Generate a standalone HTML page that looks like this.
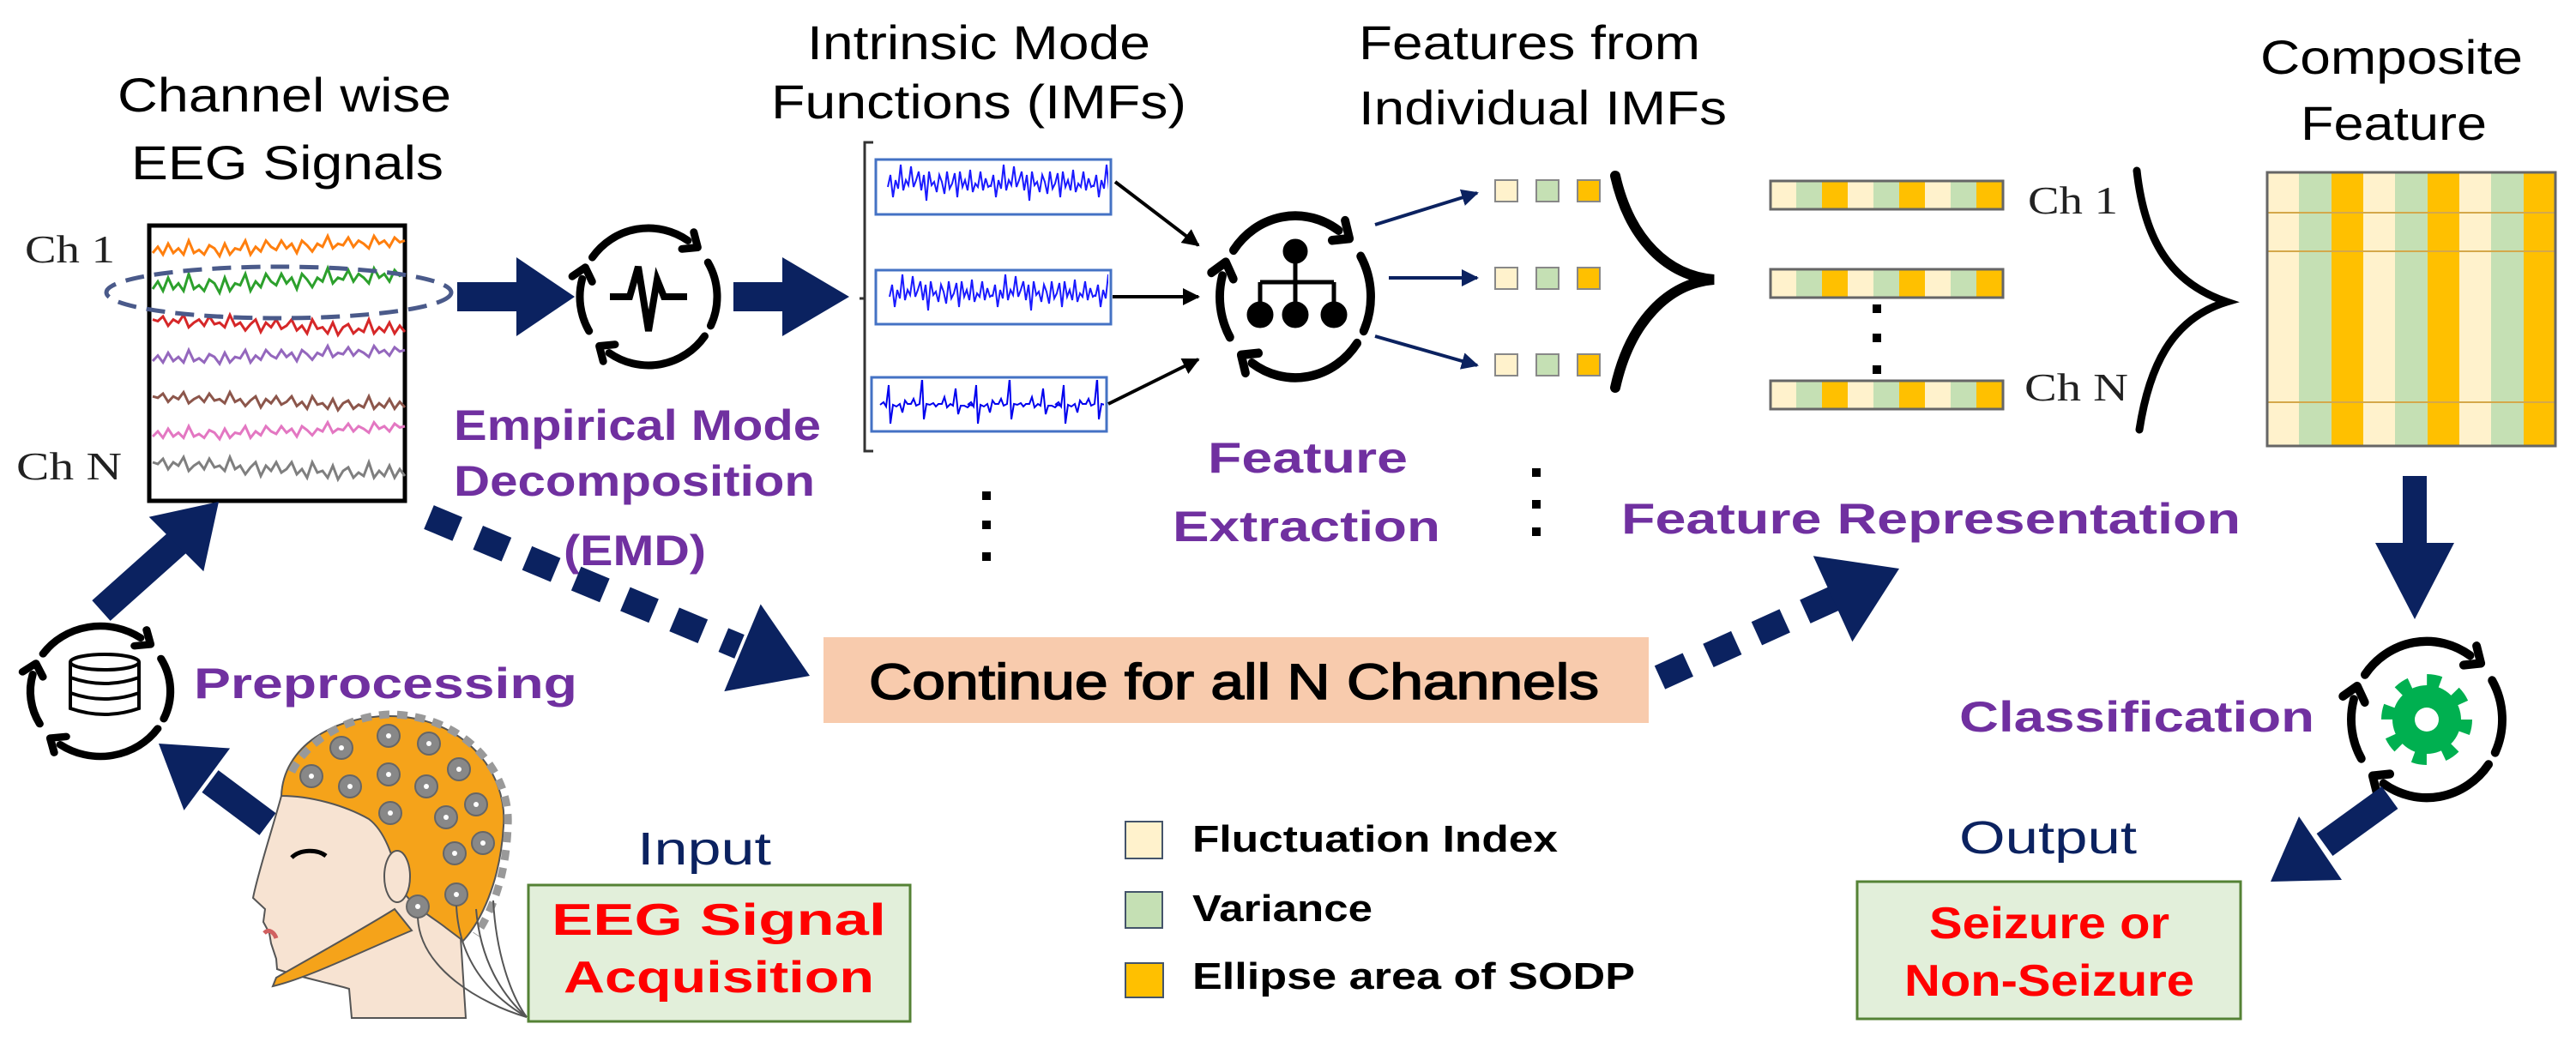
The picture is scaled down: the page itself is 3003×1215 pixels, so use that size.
<!DOCTYPE html>
<html><head><meta charset="utf-8">
<style>
html,body{margin:0;padding:0;background:#fff;}
svg{display:block;}
text{font-family:"Liberation Sans",Arial,sans-serif;}
.serif{font-family:"Liberation Serif","Times New Roman",serif;}
</style></head>
<body>
<svg width="3003" height="1215" viewBox="0 0 3003 1215" xmlns="http://www.w3.org/2000/svg">
<defs>
  <g id="cyc" fill="none" stroke="#000" stroke-width="9" stroke-linecap="round" stroke-linejoin="round">
    <path d="M-65.5,-45.9 A80,80 0 0 1 45.9,-65.5"/>
    <polyline points="52.8,-75.3 57.4,-57.5 39,-55.7"/>
    <path d="M69.3,-40 A80,80 0 0 1 72.5,33.8"/>
    <path d="M65.5,45.9 A80,80 0 0 1 -45.9,65.5"/>
    <polyline points="-52.8,75.3 -57.4,57.5 -39,55.7"/>
    <path d="M-69.3,40 A80,80 0 0 1 -77.3,-20.7"/>
    <polyline points="-88.9,-23.8 -73.7,-34.2 -65.7,-17.6"/>
  </g>
  <path id="tr" fill="none" stroke="currentColor" stroke-width="3" vector-effect="non-scaling-stroke" d="m0,0 l6,-4 l6,5 l6,-7 l6,6 l6,-3 l6,4 l6,-9 l6,8 l6,-2 l6,3 l6,-6 l6,2 l6,5 l6,-8 l6,7 l6,-4 l6,1 l6,-6 l6,9 l6,-5 l6,3 l6,-7 l6,4 l6,2 l6,-6 l6,5 l6,-3 l6,6 l6,-8 l6,3 l6,4 l6,-5 l6,2 l6,-7 l6,8 l6,-3 l6,1 l6,-5 l6,6 l6,-4 l6,2 l6,3 l6,-8 l6,5 l6,-2 l6,4 l6,-6 l6,3 l6,-1"/>
  <path id="imf" fill="none" stroke="#1a1aff" stroke-width="2" d="m0,0 l3,-14 l3,26 l3,-20 l3,10 l3,-28 l3,30 l3,-12 l3,6 l3,-22 l3,24 l3,-8 l3,-10 l3,22 l3,-18 l3,30 l3,-34 l3,16 l3,-4 l3,12 l3,-20 l3,8 l3,14 l3,-26 l3,20 l3,-6 l3,-12 l3,28 l3,-30 l3,18 l3,-8 l3,12 l3,-24 l3,26 l3,-10 l3,4 l3,-18 l3,22 l3,-14 l3,10 l3,-2"/>
  <path id="imf3" fill="none" stroke="#0000ee" stroke-width="2" d="m0,0 l4,-3 l3,5 l3,-25 l2,45 l3,-22 l4,2 l4,-3 l3,10 l3,-14 l3,4 l4,0 l3,-6 l3,8 l4,-2 l3,-30 l2,48 l3,-18 l4,1 l4,-2 l3,4 l3,-3 l4,0 l3,-8 l3,12 l4,-4 l3,2 l3,-20 l3,30 l3,-10 l4,0 l4,2 l3,-3 l3,1"/>
  <clipPath id="c1"><rect x="1024" y="189" width="268" height="58"/></clipPath>
  <clipPath id="c2"><rect x="1024" y="318" width="268" height="57"/></clipPath>
  <clipPath id="c3"><rect x="1019" y="443" width="268" height="57"/></clipPath>
  <marker id="ah" viewBox="0 0 10 10" refX="9" refY="5" markerWidth="5" markerHeight="5" orient="auto"><path d="M0,0 L10,5 L0,10 Z" fill="#000"/></marker>
  <marker id="ahn" viewBox="0 0 10 10" refX="9" refY="5" markerWidth="5" markerHeight="5" orient="auto"><path d="M0,0 L10,5 L0,10 Z" fill="#0b2260"/></marker>
</defs>

<!-- Titles -->
<g font-size="56" fill="#000">
  <text x="137" y="130" textLength="389" lengthAdjust="spacingAndGlyphs">Channel wise</text>
  <text x="153" y="209" textLength="364" lengthAdjust="spacingAndGlyphs">EEG Signals</text>
  <text x="941" y="69" textLength="400" lengthAdjust="spacingAndGlyphs">Intrinsic Mode</text>
  <text x="899" y="138" textLength="484" lengthAdjust="spacingAndGlyphs">Functions (IMFs)</text>
  <text x="1584" y="69" textLength="398" lengthAdjust="spacingAndGlyphs">Features from</text>
  <text x="1584" y="145" textLength="429" lengthAdjust="spacingAndGlyphs">Individual IMFs</text>
  <text x="2635" y="86" textLength="306" lengthAdjust="spacingAndGlyphs">Composite</text>
  <text x="2682" y="163" textLength="217" lengthAdjust="spacingAndGlyphs">Feature</text>
</g>
<g class="serif" font-size="46" fill="#222">
  <text class="serif" x="29" y="306" textLength="105" lengthAdjust="spacingAndGlyphs">Ch 1</text>
  <text class="serif" x="19" y="559" textLength="123" lengthAdjust="spacingAndGlyphs">Ch N</text>
  <text class="serif" x="2364" y="249" textLength="105" lengthAdjust="spacingAndGlyphs">Ch 1</text>
  <text class="serif" x="2360" y="467" textLength="121" lengthAdjust="spacingAndGlyphs">Ch N</text>
</g>

<!-- EEG box -->
<rect x="174" y="263" width="298" height="321" fill="#fff" stroke="#000" stroke-width="5"/>
<use href="#tr" transform="translate(178,295) scale(1,1.8)" style="color:#ff7f0e"/>
<use href="#tr" transform="translate(178,337) scale(1,2.2)" style="color:#2ca02c"/>
<use href="#tr" transform="translate(178,387) scale(-1,1.8) translate(-294,0)" style="color:#d62728"/>
<use href="#tr" transform="translate(178,421) scale(1,1.6)" style="color:#9467bd"/>
<use href="#tr" transform="translate(178,475) scale(-1,1.6) translate(-294,0)" style="color:#8c564b"/>
<use href="#tr" transform="translate(178,509) scale(1,1.5)" style="color:#e377c2"/>
<use href="#tr" transform="translate(178,555) scale(-1,2) translate(-294,0)" style="color:#7f7f7f"/>
<ellipse cx="325" cy="341" rx="201" ry="30" fill="none" stroke="#4a5a8a" stroke-width="5" stroke-dasharray="22 12"/>

<!-- big horizontal arrows -->
<polygon points="533,329 602,329 602,300 670,346 602,392 602,363 533,363" fill="#0b2260"/>
<polygon points="855,329 912,329 912,300 990,346 912,392 912,363 855,363" fill="#0b2260"/>

<!-- EMD icon -->
<use href="#cyc" transform="translate(756,346)"/>
<path d="M-45,0 H-22 L-12,-35 L0,40 L10,-20 L18,0 H45" transform="translate(756,346)" fill="none" stroke="#000" stroke-width="8" stroke-linejoin="miter"/>

<!-- purple labels -->
<g font-size="50" font-weight="bold" fill="#7030a0">
  <text x="529" y="513" textLength="428" lengthAdjust="spacingAndGlyphs">Empirical Mode</text>
  <text x="529" y="578" textLength="421" lengthAdjust="spacingAndGlyphs">Decomposition</text>
  <text x="657" y="659" textLength="166" lengthAdjust="spacingAndGlyphs">(EMD)</text>
  <text x="1408" y="551" textLength="233" lengthAdjust="spacingAndGlyphs">Feature</text>
  <text x="1367" y="631" textLength="312" lengthAdjust="spacingAndGlyphs">Extraction</text>
  <text x="1890" y="622" textLength="722" lengthAdjust="spacingAndGlyphs">Feature Representation</text>
  <text x="226" y="814" textLength="447" lengthAdjust="spacingAndGlyphs">Preprocessing</text>
  <text x="2284" y="853" textLength="414" lengthAdjust="spacingAndGlyphs">Classification</text>
</g>

<!-- bracket -->
<path d="M1018,166 H1008 V526 H1018 M1008,348 H1002" fill="none" stroke="#333" stroke-width="3"/>
<!-- IMF boxes -->
<rect x="1021" y="186" width="274" height="64" fill="#fff" stroke="#4472c4" stroke-width="3"/>
<rect x="1021" y="315" width="274" height="63" fill="#fff" stroke="#4472c4" stroke-width="3"/>
<rect x="1016" y="440" width="274" height="63" fill="#fff" stroke="#4472c4" stroke-width="3"/>
<g clip-path="url(#c1)"><use href="#imf" x="1035" y="218"/><use href="#imf" x="1155" y="218"/><use href="#imf" x="1275" y="218"/></g>
<g clip-path="url(#c2)"><use href="#imf" x="1037" y="346"/><use href="#imf" x="1157" y="346"/><use href="#imf" x="1277" y="346"/></g>
<g clip-path="url(#c3)"><use href="#imf3" x="1026" y="472"/><use href="#imf3" x="1128" y="472"/><use href="#imf3" x="1230" y="472"/></g>
<!-- thin arrows -->
<g stroke="#000" stroke-width="4" marker-end="url(#ah)">
  <line x1="1300" y1="212" x2="1397" y2="286"/>
  <line x1="1297" y1="346" x2="1397" y2="346"/>
  <line x1="1292" y1="471" x2="1397" y2="419"/>
</g>
<!-- feature extraction icon -->
<g transform="translate(1510,346) scale(1.1,1.18)"><use href="#cyc"/></g>
<g fill="#000" stroke="#000" stroke-width="5">
  <circle cx="1510" cy="293" r="12"/>
  <path d="M1510,293 V329 M1469,329 H1555 M1469,329 V367 M1510,329 V367 M1555,329 V367" fill="none"/>
  <circle cx="1469" cy="367" r="13"/><circle cx="1510" cy="367" r="13"/><circle cx="1555" cy="367" r="13"/>
</g>
<g stroke="#0b2260" stroke-width="4" marker-end="url(#ahn)">
  <line x1="1603" y1="262" x2="1722" y2="225"/>
  <line x1="1619" y1="324" x2="1722" y2="324"/>
  <line x1="1603" y1="392" x2="1722" y2="426"/>
</g>
<!-- small squares -->
<g stroke="#888" stroke-width="2">
  <rect x="1743" y="210" width="26" height="25" fill="#fff2cc"/><rect x="1791" y="210" width="26" height="25" fill="#c5e0b4"/><rect x="1839" y="210" width="26" height="25" fill="#ffc000"/>
  <rect x="1743" y="312" width="26" height="25" fill="#fff2cc"/><rect x="1791" y="312" width="26" height="25" fill="#c5e0b4"/><rect x="1839" y="312" width="26" height="25" fill="#ffc000"/>
  <rect x="1743" y="413" width="26" height="25" fill="#fff2cc"/><rect x="1791" y="413" width="26" height="25" fill="#c5e0b4"/><rect x="1839" y="413" width="26" height="25" fill="#ffc000"/>
</g>
<!-- merge braces -->
<path d="M1883,205 C1900,280 1945,322 1998,326 C1945,330 1900,375 1883,452" fill="none" stroke="#000" stroke-width="12" stroke-linecap="round"/>
<path d="M2491,199 C2500,280 2530,330 2596,352 C2530,372 2505,430 2494,501" fill="none" stroke="#000" stroke-width="9" stroke-linecap="round"/>

<!-- feature bars -->
<g id="bar">
  <rect x="2064" y="211" width="271" height="33" fill="#fff2cc"/>
  <rect x="2094" y="211" width="30" height="33" fill="#c5e0b4"/><rect x="2124" y="211" width="30" height="33" fill="#ffc000"/>
  <rect x="2184" y="211" width="30" height="33" fill="#c5e0b4"/><rect x="2214" y="211" width="30" height="33" fill="#ffc000"/>
  <rect x="2274" y="211" width="30" height="33" fill="#c5e0b4"/><rect x="2304" y="211" width="31" height="33" fill="#ffc000"/>
  <rect x="2064" y="211" width="271" height="33" fill="none" stroke="#666" stroke-width="3"/>
</g>
<use href="#bar" y="103"/>
<use href="#bar" y="233"/>
<g fill="#000">
  <rect x="2183" y="355" width="10" height="10"/><rect x="2183" y="389" width="10" height="10"/><rect x="2183" y="426" width="10" height="10"/>
  <rect x="1145" y="573" width="10" height="10"/><rect x="1145" y="607" width="10" height="10"/><rect x="1145" y="644" width="10" height="10"/>
  <rect x="1786" y="546" width="10" height="10"/><rect x="1786" y="583" width="10" height="10"/><rect x="1786" y="615" width="10" height="10"/>
</g>

<!-- composite matrix -->
<g>
  <rect x="2643" y="201" width="336" height="319" fill="#fff2cc"/>
  <rect x="2680" y="201" width="38" height="319" fill="#c5e0b4"/><rect x="2718" y="201" width="37" height="319" fill="#ffc000"/>
  <rect x="2792" y="201" width="38" height="319" fill="#c5e0b4"/><rect x="2830" y="201" width="37" height="319" fill="#ffc000"/>
  <rect x="2904" y="201" width="38" height="319" fill="#c5e0b4"/><rect x="2942" y="201" width="37" height="319" fill="#ffc000"/>
  <g stroke="#d4a84a" stroke-width="2"><line x1="2643" y1="248" x2="2979" y2="248"/><line x1="2643" y1="293" x2="2979" y2="293"/><line x1="2643" y1="469" x2="2979" y2="469"/></g>
  <rect x="2643" y="201" width="336" height="319" fill="none" stroke="#666" stroke-width="3"/>
</g>

<!-- continue box -->
<rect x="960" y="743" width="962" height="100" fill="#f8cbad"/>
<text x="1013" y="815" font-size="58" textLength="851" lengthAdjust="spacingAndGlyphs" fill="#000" stroke="#000" stroke-width="1.6">Continue for all N Channels</text>

<!-- dashed arrows -->
<line x1="500" y1="603" x2="862" y2="754" stroke="#0b2260" stroke-width="30" stroke-dasharray="36 26"/>
<polygon points="944,788 844.3,806.1 886.7,704.5" fill="#0b2260"/>
<line x1="1935" y1="790" x2="2140" y2="697" stroke="#0b2260" stroke-width="30" stroke-dasharray="36 26"/>
<polygon points="2214,663 2159.4,748.2 2113.8,648.2" fill="#0b2260"/>

<!-- preprocessing -->
<use href="#cyc" transform="translate(117,806) scale(1.02,0.95)"/>
<g fill="none" stroke="#000" stroke-width="4">
  <ellipse cx="122" cy="772" rx="40" ry="9"/>
  <path d="M82,772 V790 Q122,804 162,790 V772 M82,790 V808 Q122,822 162,808 V790 M82,808 V826 Q122,840 162,826 V808"/>
</g>
<line x1="118" y1="712" x2="212" y2="628" stroke="#0b2260" stroke-width="32"/>
<polygon points="255,585 237.3,666.3 173.7,602.7" fill="#0b2260"/>
<line x1="312" y1="961" x2="245" y2="911" stroke="#0b2260" stroke-width="32"/>
<polygon points="185,867 268.1,872.5 214.5,944.9" fill="#0b2260"/>

<!-- head -->
<g stroke="#555" stroke-width="2">
  <path d="M328,928 C318,965 300,1020 295,1047 L309,1060 L307,1075 L314,1088 L316,1100 L322,1118 L323,1130 C350,1140 392,1148 407,1153 L410,1187 L543,1187 L537,1093 L570,1000 L500,900 Z" fill="#f7e3d2"/>
  <path d="M328,928 C330,870 390,835 453,835 C540,835 592,900 587,963 C583,1030 560,1075 540,1097 L520,1082 C505,1070 485,1060 470,1040 C458,1000 450,970 430,955 C400,938 360,928 328,928 Z" fill="#f5a31a"/>
  <path d="M460,1060 C420,1085 360,1118 322,1140 L318,1150 C360,1140 420,1110 480,1085 Z" fill="#f5a31a"/>
  <ellipse cx="463" cy="1022" rx="15" ry="30" fill="#f7e3d2"/>
</g>
<path d="M340,900 C360,860 410,835 453,833 C540,833 596,900 592,963 C590,1020 575,1060 555,1090" fill="none" stroke="#999" stroke-width="9" stroke-dasharray="12 9"/>
<g fill="#888" stroke="#666" stroke-width="2">
  <circle cx="363" cy="905" r="13"/><circle cx="398" cy="872" r="13"/><circle cx="453" cy="858" r="13"/><circle cx="500" cy="867" r="13"/><circle cx="535" cy="897" r="13"/><circle cx="555" cy="938" r="13"/><circle cx="563" cy="983" r="13"/><circle cx="408" cy="917" r="13"/><circle cx="453" cy="903" r="13"/><circle cx="497" cy="917" r="13"/><circle cx="520" cy="953" r="13"/><circle cx="530" cy="995" r="13"/><circle cx="532" cy="1043" r="13"/><circle cx="455" cy="948" r="13"/><circle cx="487" cy="1057" r="13"/>
</g>
<g fill="#fff"><circle cx="363" cy="905" r="3"/><circle cx="398" cy="872" r="3"/><circle cx="453" cy="858" r="3"/><circle cx="500" cy="867" r="3"/><circle cx="535" cy="897" r="3"/><circle cx="555" cy="938" r="3"/><circle cx="563" cy="983" r="3"/><circle cx="408" cy="917" r="3"/><circle cx="453" cy="903" r="3"/><circle cx="497" cy="917" r="3"/><circle cx="520" cy="953" r="3"/><circle cx="530" cy="995" r="3"/><circle cx="532" cy="1043" r="3"/><circle cx="455" cy="948" r="3"/><circle cx="487" cy="1057" r="3"/></g>
<g fill="none" stroke="#555" stroke-width="2">
  <path d="M487,1070 C490,1130 560,1170 614,1186"/><path d="M532,1056 C535,1120 570,1160 614,1186"/><path d="M555,1060 C560,1120 585,1160 614,1186"/><path d="M575,1050 C578,1110 595,1160 614,1186"/>
</g>
<path d="M340,1000 C350,990 370,990 380,998" stroke="#000" stroke-width="5" fill="none"/>
<path d="M308,1088 C314,1082 320,1088 322,1094" stroke="#d06060" stroke-width="5" fill="none"/>

<!-- input -->
<text x="743" y="1008" font-size="54" fill="#0b2260" textLength="156" lengthAdjust="spacingAndGlyphs">Input</text>
<rect x="616" y="1032" width="445" height="159" fill="#e2efda" stroke="#548235" stroke-width="3"/>
<g font-size="52" font-weight="bold" fill="#ff0000" text-anchor="middle">
  <text x="838" y="1090" textLength="390" lengthAdjust="spacingAndGlyphs">EEG Signal</text>
  <text x="838" y="1157" textLength="362" lengthAdjust="spacingAndGlyphs">Acquisition</text>
</g>

<!-- legend -->
<rect x="1312" y="958" width="43" height="43" fill="#fff2cc" stroke="#44546a" stroke-width="2"/>
<rect x="1312" y="1040" width="43" height="42" fill="#c5e0b4" stroke="#44546a" stroke-width="2"/>
<rect x="1312" y="1123" width="44" height="40" fill="#ffc000" stroke="#44546a" stroke-width="2"/>
<g font-size="44" font-weight="bold" fill="#000">
  <text x="1390" y="993" textLength="426" lengthAdjust="spacingAndGlyphs">Fluctuation Index</text>
  <text x="1390" y="1074" textLength="210" lengthAdjust="spacingAndGlyphs">Variance</text>
  <text x="1390" y="1153" textLength="516" lengthAdjust="spacingAndGlyphs">Ellipse area of SODP</text>
</g>

<!-- classification -->
<polygon points="2801,555 2829,555 2829,633 2861,633 2815,722 2769,633 2801,633" fill="#0b2260"/>
<g transform="translate(2829,839) scale(1.1,1.14)"><use href="#cyc"/></g>
<circle cx="2829" cy="839" r="40" fill="#00b050"/>
<circle cx="2829" cy="839" r="46" fill="none" stroke="#00b050" stroke-width="14" stroke-dasharray="16 20.1"/>
<circle cx="2829" cy="839" r="14" fill="#fff"/>
<line x1="2786" y1="930" x2="2710" y2="985" stroke="#0b2260" stroke-width="32"/>
<polygon points="2647,1028 2730,1026 2680,952" fill="#0b2260"/>

<text x="2284" y="995" font-size="54" fill="#0b2260" textLength="207" lengthAdjust="spacingAndGlyphs">Output</text>
<rect x="2165" y="1028" width="447" height="160" fill="#e2efda" stroke="#548235" stroke-width="3"/>
<g font-size="52" font-weight="bold" fill="#ff0000">
  <text x="2249" y="1094" textLength="280" lengthAdjust="spacingAndGlyphs">Seizure or</text>
  <text x="2220" y="1161" textLength="338" lengthAdjust="spacingAndGlyphs">Non-Seizure</text>
</g>
</svg>
</body></html>
